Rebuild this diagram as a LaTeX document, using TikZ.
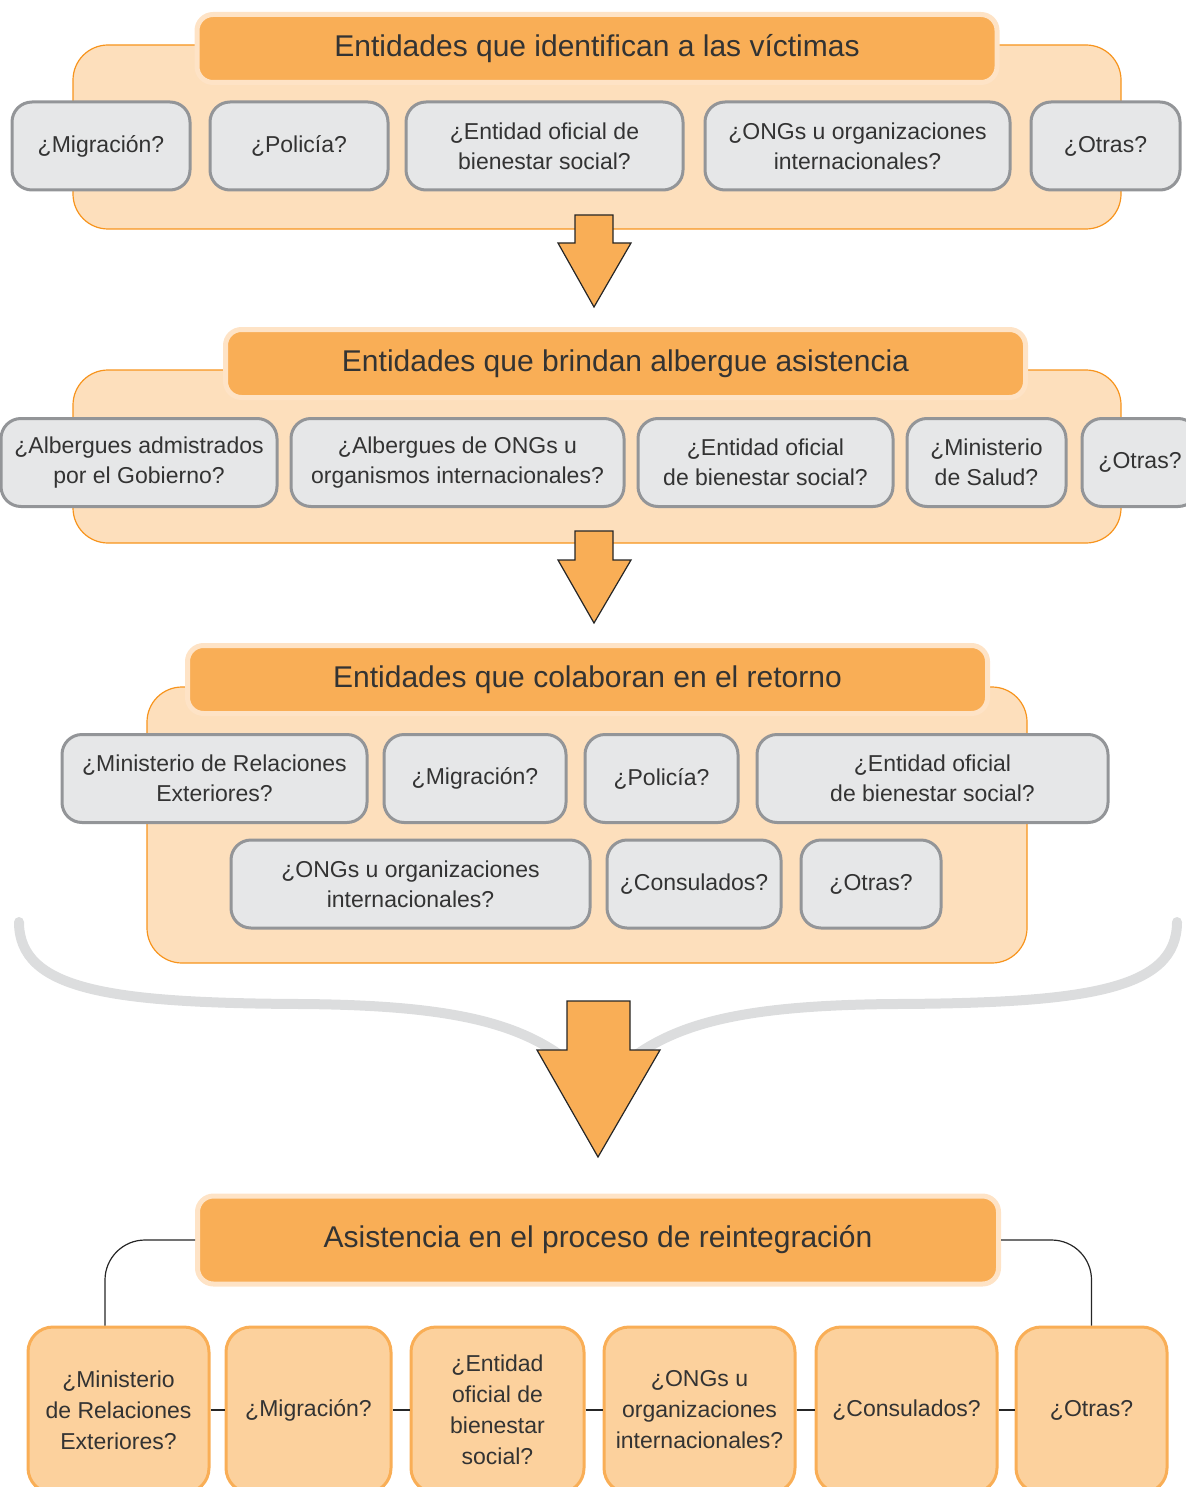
\documentclass[tikz,border=0pt]{standalone}
\usepackage{fontspec}
\setmainfont{Liberation Sans}
\usepackage{tikz}
\usetikzlibrary{positioning,calc}
\definecolor{panelfill}{HTML}{FDDFBC}
\definecolor{panelline}{HTML}{F7941D}
\definecolor{headfill}{HTML}{F9AE56}
\definecolor{headrim}{HTML}{FEE3C6}
\definecolor{boxgray}{HTML}{E6E7E8}
\definecolor{boxline}{HTML}{939598}
\definecolor{boxorange}{HTML}{FCD19D}
\definecolor{bracegray}{HTML}{DCDDDE}
\definecolor{textgray}{HTML}{333333}

\begin{document}
\begin{tikzpicture}[x=1pt,y=-1pt,
    every node/.style={text=textgray},
    panel/.style={fill=panelfill,draw=panelline,line width=1.2pt,rounded corners=35pt},
    header/.style={fill=headfill,draw=headrim,line width=5pt,rounded corners=16pt,
      minimum width=800pt,minimum height=68pt,font=\fontsize{30}{36}\selectfont},
    qbox/.style={fill=boxgray,draw=boxline,line width=3pt,rounded corners=20pt,
      align=center,inner sep=0pt,minimum height=88pt,font=\fontsize{23}{30}\selectfont},
    rbox/.style={fill=boxorange,draw=headfill,line width=3pt,rounded corners=25pt,
      align=center,inner sep=0pt,minimum height=166pt,font=\fontsize{23}{31}\selectfont},
    fatarrow/.style={fill=headfill,draw=black!85,line width=1.2pt,line join=miter},
    brace/.style={draw=bracegray,line width=10pt,line cap=round},
    link/.style={draw=black!85,line width=1.2pt,rounded corners=40pt}]
  \useasboundingbox (0,0) rectangle (1185,1487);

  % Identification
  \draw[panel] (73,45) rectangle (1121,229);
  \node[header] (hd1) at (597,48.5) {Entidades que identifican a las víctimas};
  \node[qbox,minimum width=178pt] (id1) at (101,146) {¿Migración?};
  \node[qbox,minimum width=178pt] (id2) at (299,146) {¿Policía?};
  \node[qbox,minimum width=277pt] (id3) at (544.5,146) {¿Entidad oficial de\\bienestar social?};
  \node[qbox,minimum width=305pt] (id4) at (857.5,146) {¿ONGs u organizaciones\\internacionales?};
  \node[qbox,minimum width=149pt] (id5) at (1105.5,146) {¿Otras?};
  \draw[fatarrow] (575,215) -- (613,215) -- (613,243) -- (631,243) -- (594,307) -- (558,243) -- (575,243) -- cycle;

  % Shelter
  \draw[panel] (73,370) rectangle (1121,543);
  \node[header] (hd2) at (625.5,363.5) {Entidades que brindan albergue asistencia};
  \node[qbox,minimum width=276pt] (sh1) at (139,462.5) {¿Albergues admistrados\\por el Gobierno?};
  \node[qbox,minimum width=333pt] (sh2) at (457.5,462.5) {¿Albergues de ONGs u\\organismos internacionales?};
  \node[qbox,minimum width=255pt] (sh3) at (765.5,462.5) {¿Entidad oficial\\de bienestar social?};
  \node[qbox,minimum width=159pt] (sh4) at (986.5,462.5) {¿Ministerio\\de Salud?};
  \node[qbox,minimum width=116pt] (sh5) at (1140,462.5) {¿Otras?};
  \draw[fatarrow] (575,531) -- (613,531) -- (613,560) -- (631,560) -- (594,623) -- (558,560) -- (575,560) -- cycle;

  % Return
  \draw[panel] (147,687) rectangle (1027,963);
  \node[header] (hd3) at (587.5,679.5) {Entidades que colaboran en el retorno};
  \node[qbox,minimum width=305pt] (rt1) at (214.5,778.5) {¿Ministerio de Relaciones\\Exteriores?};
  \node[qbox,minimum width=182pt] (rt2) at (475,778.5) {¿Migración?};
  \node[qbox,minimum width=153pt] (rt3) at (661.5,778.5) {¿Policía?};
  \node[qbox,minimum width=351pt] (rt4) at (932.5,778.5) {¿Entidad oficial\\de bienestar social?};
  \node[qbox,minimum width=359pt] (rt5) at (410.5,884) {¿ONGs u organizaciones\\internacionales?};
  \node[qbox,minimum width=174pt] (rt6) at (694,884) {¿Consulados?};
  \node[qbox,minimum width=140pt] (rt7) at (871,884) {¿Otras?};

  % Gathering brace
  \draw[brace] (19,922) .. controls (19,990) and (110,1003) .. (300,1004) .. controls (440,1005) and (510,1020) .. (560,1055);
  \draw[brace] (1177,922) .. controls (1177,990) and (1086,1003) .. (896,1004) .. controls (756,1005) and (686,1020) .. (636,1055);
  \draw[fatarrow] (567,1001) -- (630,1001) -- (630,1050) -- (660,1050) -- (598,1157) -- (537,1050) -- (567,1050) -- cycle;

  % Reintegration
  \node[header,minimum width=801pt,minimum height=88pt] (hd4) at (598,1240) {Asistencia en el proceso de reintegración};
  \node[rbox,minimum width=181pt] (ri1) at (118.5,1410) {¿Ministerio\\de Relaciones\\Exteriores?};
  \node[rbox,minimum width=165pt] (ri2) at (308.5,1410) {¿Migración?};
  \node[rbox,minimum width=173pt] (ri3) at (497.5,1410) {¿Entidad\\oficial de\\bienestar\\social?};
  \node[rbox,minimum width=191pt] (ri4) at (699.5,1410) {¿ONGs u\\organizaciones\\internacionales?};
  \node[rbox,minimum width=181pt] (ri5) at (906.5,1410) {¿Consulados?};
  \node[rbox,minimum width=151pt] (ri6) at (1091.5,1410) {¿Otras?};
  \draw[link] (hd4.west) -| ([xshift=-13.5pt]ri1.north);
  \draw[link] (hd4.east) -| (ri6.north);
  \foreach \a/\b in {ri1/ri2,ri2/ri3,ri3/ri4,ri4/ri5,ri5/ri6}
    \draw[link] (\a.east) -- (\b.west);
\end{tikzpicture}
\end{document}
